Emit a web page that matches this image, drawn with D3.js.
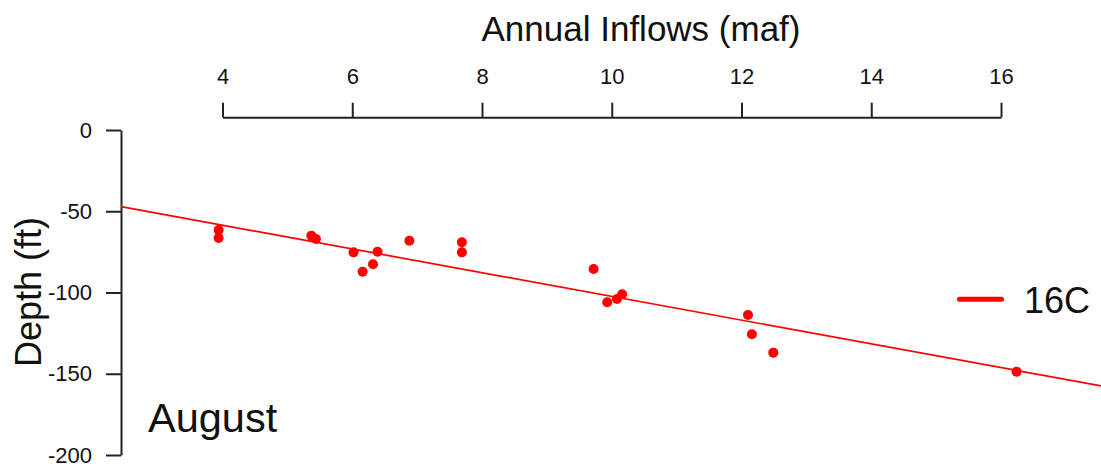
<!DOCTYPE html>
<html>
<head>
<meta charset="utf-8">
<script src="https://cdn.jsdelivr.net/npm/d3@7"></script>
<style>
  html, body { margin: 0; padding: 0; background: #ffffff; }
  svg { display: block; }
  text { font-family: "Liberation Sans", Arial, sans-serif; fill: #111; }
</style>
</head>
<body>
<svg id="chart" width="1101" height="472"></svg>
<script>
// August observations: annual inflow (maf) vs depth of the 16C isotherm (ft)
const inflow = [3.94, 3.94, 5.37, 5.44, 6.02, 6.39, 6.32, 6.16, 6.88, 7.69, 7.69,
                9.72, 9.93, 10.08, 10.16, 12.10, 12.16, 12.49, 16.24];
const depth  = [-61.5, -66.5, -65.0, -67.1, -75.3, -74.9, -82.6, -87.2, -68.1, -69.1, -75.3,
                -85.5, -106.0, -104.0, -101.1, -113.8, -125.7, -137.0, -148.7];

// Linear fit: depth = intercept + slope * inflow
const fitIntercept = -29.4;
const fitSlope = -7.30;

const inflowTicks = [4, 6, 8, 10, 12, 14, 16];
const depthTicks = [0, -50, -100, -150, -200];
const seriesName = "16C";
const monthLabel = "August";

const svg = d3.select("#chart");
const W = 1101, H = 472;

const x = d3.scaleLinear().domain([4, 16]).range([222.5, 1001]);
const y = d3.scaleLinear().domain([0, -200]).range([130, 455]);

const plotLeft = 121, plotRight = W;
const plainNumber = d => String(d);   // keeps an ASCII hyphen for negatives

// clip for the fitted line
svg.append("defs").append("clipPath").attr("id", "plotClip")
  .append("rect").attr("x", plotLeft).attr("y", 0)
  .attr("width", plotRight - plotLeft).attr("height", H);

// top axis (annual inflow)
const topAxis = svg.append("g")
  .attr("transform", "translate(0,117.3)")
  .call(d3.axisTop(x).tickValues(inflowTicks).tickSizeInner(14.6).tickSizeOuter(0)
        .tickPadding(18.7).tickFormat(plainNumber));
topAxis.selectAll("path, line").attr("stroke", "#222").attr("stroke-width", 2);
topAxis.selectAll("text").attr("font-size", 22).attr("fill", "#111")
  .attr("font-family", "Liberation Sans, Arial, sans-serif");

svg.append("text")
  .attr("x", 641).attr("y", 41)
  .attr("text-anchor", "middle")
  .attr("font-size", 35)
  .text("Annual Inflows (maf)");

// left axis (depth)
const leftAxis = svg.append("g")
  .attr("transform", `translate(${plotLeft},0)`)
  .call(d3.axisLeft(y).tickValues(depthTicks).tickSizeInner(15).tickSizeOuter(0)
        .tickPadding(14).tickFormat(plainNumber));
leftAxis.selectAll("path, line").attr("stroke", "#222").attr("stroke-width", 2);
leftAxis.selectAll("text").attr("font-size", 22).attr("fill", "#111")
  .attr("font-family", "Liberation Sans, Arial, sans-serif");

svg.append("text")
  .attr("transform", "translate(41,292) rotate(-90)")
  .attr("text-anchor", "middle")
  .attr("font-size", 36)
  .text("Depth (ft)");

// fitted line across the plot
const xLo = x.invert(plotLeft), xHi = x.invert(plotRight);
svg.append("line")
  .attr("clip-path", "url(#plotClip)")
  .attr("x1", x(xLo)).attr("y1", y(fitIntercept + fitSlope * xLo))
  .attr("x2", x(xHi)).attr("y2", y(fitIntercept + fitSlope * xHi))
  .attr("stroke", "#ff0000").attr("stroke-width", 1.7);

// observations
svg.append("g").selectAll("circle")
  .data(inflow.map((v, i) => [v, depth[i]]))
  .join("circle")
  .attr("cx", d => x(d[0]))
  .attr("cy", d => y(d[1]))
  .attr("r", 5)
  .attr("fill", "#ff0000");

// legend
svg.append("line")
  .attr("x1", 959.5).attr("x2", 1001.5).attr("y1", 299.3).attr("y2", 299.3)
  .attr("stroke", "#ff0000").attr("stroke-width", 5).attr("stroke-linecap", "round");
svg.append("text")
  .attr("x", 1024).attr("y", 313)
  .attr("font-size", 36)
  .text(seriesName);

// month label
svg.append("text")
  .attr("x", 148).attr("y", 432)
  .attr("font-family", "Lato, 'Open Sans', sans-serif")
  .attr("font-size", 41.5)
  .text(monthLabel);
</script>
</body>
</html>
